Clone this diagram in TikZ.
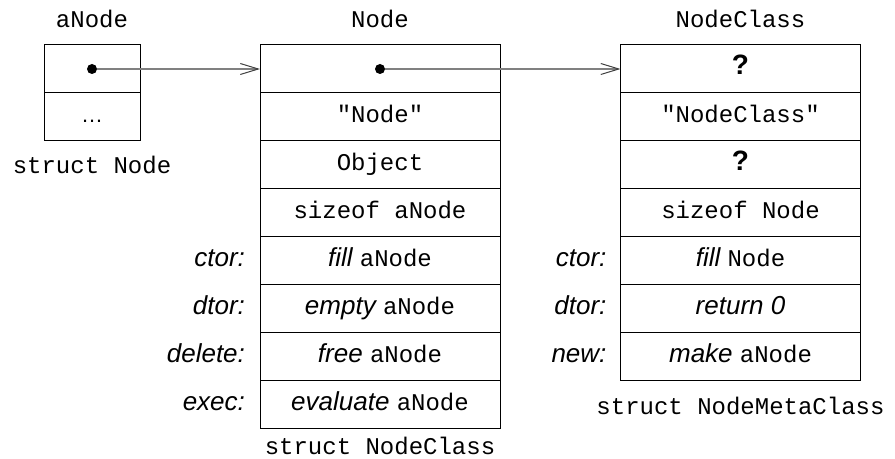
\documentclass[tikz,border=0pt]{standalone}
\usepackage{fontspec}
\setmainfont{Liberation Sans}
\setmonofont{Liberation Mono}
\usepackage{tikz}
\usetikzlibrary{arrows.meta,positioning}
\definecolor{ptrGray}{gray}{0.5}
\newcommand{\tcode}[1]{{\fontsize{12}{14}\selectfont\ttfamily #1}}
\newcommand{\tverb}[1]{{\itshape #1}}
\tikzstyle{tsMono} = [
    text=black,
    font=\fontsize{12}{14}\selectfont\ttfamily
]
\tikzstyle{tsLabel} = [
    text=black,
    text height=9pt,
    text depth=3pt,
    font=\fontsize{13}{15}\selectfont\itshape
]
\tikzstyle{tsCell} = [
    rectangle,
    draw=black,
    line width=0.5pt,
    inner sep=0pt,
    outer sep=0pt,
    minimum width=120pt,
    minimum height=24pt,
    text height=9pt,
    text depth=3pt,
    font=\fontsize{13}{15}\selectfont
]
\tikzstyle{tsSmallCell} = [
    tsCell,
    minimum width=48pt
]
\tikzstyle{tsDot} = [
    circle,
    fill=black,
    inner sep=0pt,
    outer sep=0pt,
    minimum size=5pt
]
\tikzstyle{tsPointer} = [
    draw=ptrGray,
    line width=0.75pt,
    -{Straight Barb[length=9pt,width=5.5pt,color=black!75,line width=0.5pt]}
]

\begin{document}
\begin{tikzpicture}[x=0.5pt, y=-0.5pt]

        \useasboundingbox (0,0) rectangle (895,459);

        % the object
        \node[tsSmallCell] (aNodePtr) at (92,69) {};
        \node[tsSmallCell, below=0pt of aNodePtr] (aNodeRest) {\fontsize{11}{13}\selectfont\textellipsis};
        \node[tsMono, above=5pt of aNodePtr] (aNodeTitle) {aNode};
        \node[tsMono, below=4pt of aNodeRest] (aNodeStruct) {struct Node};

        % the class
        \node[tsCell] (nodePtr) at (380,69) {};
        \node[tsCell, below=0pt of nodePtr] (nodeName) {\tcode{"Node"}};
        \node[tsCell, below=0pt of nodeName] (nodeSuper) {\tcode{Object}};
        \node[tsCell, below=0pt of nodeSuper] (nodeSize) {\tcode{sizeof aNode}};
        \node[tsCell, below=0pt of nodeSize] (nodeCtor) {\tverb{fill} \tcode{aNode}};
        \node[tsCell, below=0pt of nodeCtor] (nodeDtor) {\tverb{empty} \tcode{aNode}};
        \node[tsCell, below=0pt of nodeDtor] (nodeDelete) {\tverb{free} \tcode{aNode}};
        \node[tsCell, below=0pt of nodeDelete] (nodeExec) {\tverb{evaluate} \tcode{aNode}};
        \node[tsMono, above=5pt of nodePtr] (nodeTitle) {Node};
        \node[tsMono, below=0.5pt of nodeExec] (nodeStruct) {struct NodeClass};

        \node[tsLabel, left=4pt of nodeCtor] (nodeCtorLbl) {ctor:};
        \node[tsLabel, left=4pt of nodeDtor] (nodeDtorLbl) {dtor:};
        \node[tsLabel, left=4pt of nodeDelete] (nodeDeleteLbl) {delete:};
        \node[tsLabel, left=4pt of nodeExec] (nodeExecLbl) {exec:};

        % the metaclass
        \node[tsCell] (metaPtr) at (740.5,69) {\fontsize{14}{16}\selectfont\textbf{?}};
        \node[tsCell, below=0pt of metaPtr] (metaName) {\tcode{"NodeClass"}};
        \node[tsCell, below=0pt of metaName] (metaSuper) {\fontsize{14}{16}\selectfont\textbf{?}};
        \node[tsCell, below=0pt of metaSuper] (metaSize) {\tcode{sizeof Node}};
        \node[tsCell, below=0pt of metaSize] (metaCtor) {\tverb{fill} \tcode{Node}};
        \node[tsCell, below=0pt of metaCtor] (metaDtor) {\tverb{return 0}};
        \node[tsCell, below=0pt of metaDtor] (metaNew) {\tverb{make} \tcode{aNode}};
        \node[tsMono, above=5pt of metaPtr] (metaTitle) {NodeClass};
        \node[tsMono, below=4.5pt of metaNew] (metaStruct) {struct NodeMetaClass};

        \node[tsLabel, left=3.5pt of metaCtor] (metaCtorLbl) {ctor:};
        \node[tsLabel, left=3.5pt of metaDtor] (metaDtorLbl) {dtor:};
        \node[tsLabel, left=3.5pt of metaNew] (metaNewLbl) {new:};

        % pointers
        \node[tsDot] (aNodeDot) at (aNodePtr.center) {};
        \node[tsDot] (nodeDot) at (nodePtr.center) {};
        \draw[tsPointer] (aNodeDot) -- (nodePtr.west);
        \draw[tsPointer] (nodeDot) -- (metaPtr.west);

\end{tikzpicture}
\end{document}
